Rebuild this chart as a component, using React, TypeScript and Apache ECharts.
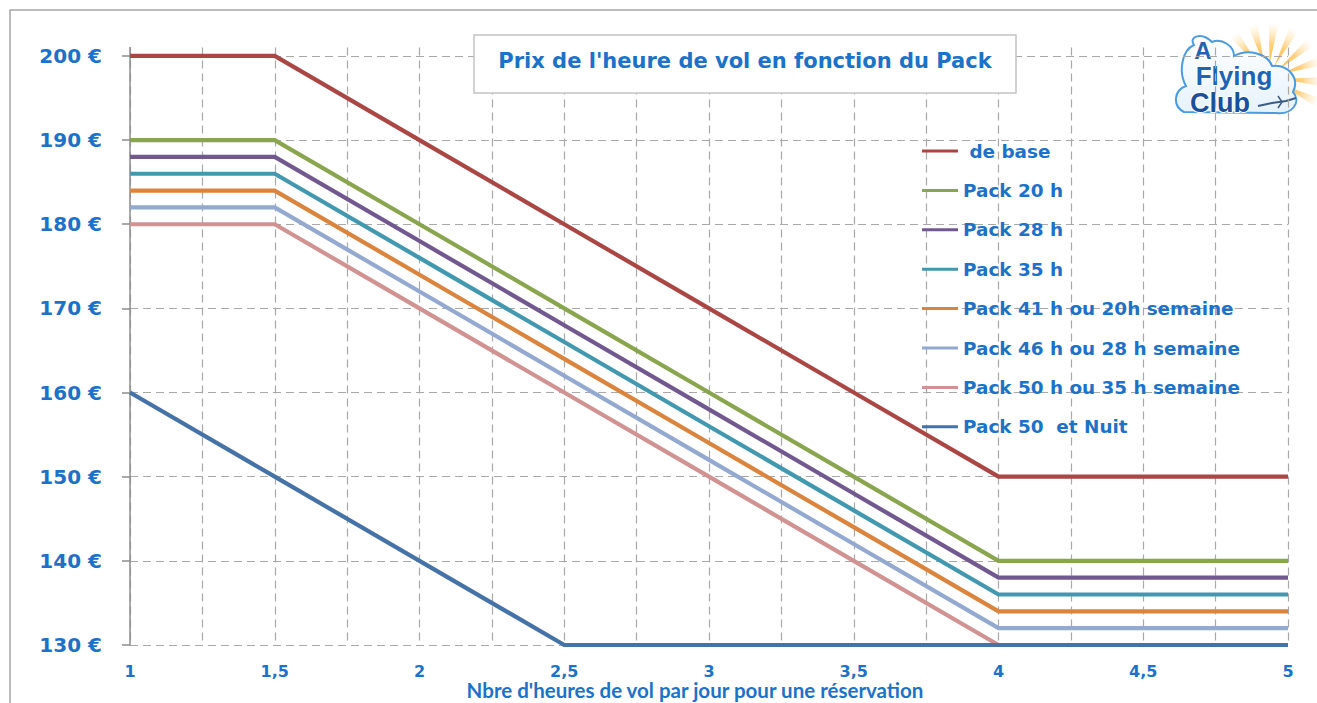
import React, { useEffect, useRef } from "react";
import * as echarts from "echarts";

const hours = [1, 1.5, 2, 2.5, 3, 3.5, 4, 4.5, 5];

const seriesNames = [
  " de base",
  "Pack 20 h",
  "Pack 28 h",
  "Pack 35 h",
  "Pack 41 h ou 20h semaine",
  "Pack 46 h ou 28 h semaine",
  "Pack 50 h ou 35 h semaine",
  "Pack 50  et Nuit",
];

const deBase = [200, 200, 190, 180, 170, 160, 150, 150, 150];
const pack20 = [190, 190, 180, 170, 160, 150, 140, 140, 140];
const pack28 = [188, 188, 178, 168, 158, 148, 138, 138, 138];
const pack35 = [186, 186, 176, 166, 156, 146, 136, 136, 136];
const pack41 = [184, 184, 174, 164, 154, 144, 134, 134, 134];
const pack46 = [182, 182, 172, 162, 152, 142, 132, 132, 132];
const pack50 = [180, 180, 170, 160, 150, 140, 130, 130, 130];
const pack50Nuit = [160, 150, 140, 130, 130, 130, 130, 130, 130];

const seriesValues = [deBase, pack20, pack28, pack35, pack41, pack46, pack50, pack50Nuit];

const seriesColors = [
  "#AA4643",
  "#89A54E",
  "#71588F",
  "#4198AF",
  "#DB843D",
  "#93A9CF",
  "#D19392",
  "#4572A7",
];

const yTicks = [130, 140, 150, 160, 170, 180, 190, 200];

const titleText = "Prix de l'heure de vol en fonction du Pack";
const xAxisTitle = "Nbre d'heures de vol par jour pour une réservation";

const cloudPath =
  "M1184 112 C1172 106 1174 90 1186 86 C1178 72 1182 50 1194 45 C1188 36 1202 32 1212 42 C1222 38 1234 46 1234 56 C1248 48 1268 54 1272 66 C1288 64 1300 78 1293 92 C1302 102 1292 115 1276 113 Z";

echarts.graphic.registerShape("cloud", echarts.graphic.extendPath(cloudPath, {}));

const textBlue = "#1B72C8";

function buildRays() {
  const cx = 1268;
  const cy = 78;
  const rays: any[] = [];
  const angles = [-150, -128, -106, -84, -62, -40, -18, 4, 26];
  angles.forEach((a) => {
    const half = 5;
    const r0 = 14;
    const r1 = 56;
    const t0 = ((a - half) * Math.PI) / 180;
    const t1 = ((a + half) * Math.PI) / 180;
    const tm = (a * Math.PI) / 180;
    rays.push({
      type: "polygon",
      shape: {
        points: [
          [cx + r0 * Math.cos(tm), cy + r0 * Math.sin(tm)],
          [cx + r1 * Math.cos(t0), cy + r1 * Math.sin(t0)],
          [cx + r1 * Math.cos(t1), cy + r1 * Math.sin(t1)],
        ],
      },
      style: {
        fill: {
          type: "radial",
          x: cx,
          y: cy,
          r: r1,
          global: true,
          colorStops: [
            { offset: 0, color: "rgba(255,170,30,1)" },
            { offset: 0.6, color: "rgba(255,195,90,0.8)" },
            { offset: 1, color: "rgba(255,225,170,0)" },
          ],
        },
      },
    });
  });
  return rays;
}

export default function App() {
  const ref = useRef<HTMLDivElement>(null);

  useEffect(() => {
    const chart = echarts.init(ref.current!, null, { renderer: "svg" });

    const series = seriesNames.map((name, si) => ({
      name,
      type: "line",
      data: hours.map((h, i) => [h, seriesValues[si][i]]),
      symbol: "none",
      showSymbol: false,
      clip: false,
      lineStyle: { width: 4.2, color: seriesColors[si], cap: "butt", join: "miter" },
      itemStyle: { color: seriesColors[si] },
      z: 3 + si,
    }));

    const option: any = {
      animation: false,
      backgroundColor: "#ffffff",
      grid: {
        left: 130,
        right: 29,
        top: 47.5,
        bottom: 58,
        containLabel: false,
        outerBoundsMode: "none",
      },
      xAxis: {
        type: "value",
        min: 1,
        max: 5,
        interval: 0.5,
        name: xAxisTitle,
        nameLocation: "middle",
        nameGap: 45,
        nameMoveOverlap: false,
        nameTextStyle: {
          color: textBlue,
          fontFamily: "Lato",
          fontWeight: "bold",
          fontSize: 20.5,
          lineHeight: 22,
          verticalAlign: "middle",
          padding: [0, 28, 0, 0],
        },
        axisLine: { show: false },
        axisTick: { show: false },
        minorTick: { show: false, splitNumber: 2 },
        axisLabel: {
          margin: 18,
          color: textBlue,
          fontFamily: "DejaVu Sans",
          fontWeight: "bold",
          fontSize: 16,
          lineHeight: 16,
          showMinLabel: true,
          showMaxLabel: true,
          formatter: (v: number) => String(v).replace(".", ","),
        },
        splitLine: {
          show: true,
          lineStyle: { color: "#A8A8A8", type: [8, 5], width: 1.2 },
        },
        minorSplitLine: {
          show: true,
          lineStyle: { color: "#A8A8A8", type: [8, 5], width: 1.2 },
        },
      },
      yAxis: {
        type: "value",
        min: 130,
        max: 201,
        interval: 10,
        axisLine: { show: true, lineStyle: { color: "#8C8C8C", width: 1.5 } },
        axisTick: {
          show: true,
          inside: false,
          length: 8,
          customValues: yTicks,
          lineStyle: { color: "#8C8C8C", width: 1.5 },
        },
        axisLabel: {
          margin: 28,
          customValues: yTicks,
          color: textBlue,
          fontFamily: "DejaVu Sans",
          fontWeight: "bold",
          fontSize: 20,
          formatter: (v: number) => (v % 10 === 0 ? v + " €" : ""),
        },
        splitLine: {
          show: true,
          lineStyle: { color: "#A8A8A8", type: [8, 5], width: 1.2 },
        },
      },
      legend: {
        orient: "vertical",
        left: 922,
        top: 141,
        padding: 0,
        itemWidth: 36,
        itemHeight: 3,
        itemGap: 19.4,
        icon: "rect",
        selectedMode: false,
        data: seriesNames,
        textStyle: {
          color: textBlue,
          fontFamily: "DejaVu Sans",
          fontWeight: "bold",
          fontSize: 18.4,
          lineHeight: 20,
        },
      },
      graphic: [
        {
          type: "rect",
          z: 0,
          silent: true,
          shape: { x: 10, y: 10, width: 1340, height: 730 },
          style: { fill: "none", stroke: "#A6A6A6", lineWidth: 1.5 },
        },
        {
          type: "rect",
          z: 20,
          shape: { x: 474, y: 35, width: 542, height: 58 },
          style: { fill: "#ffffff", stroke: "#C4C4C4", lineWidth: 1.5 },
        },
        {
          type: "text",
          z: 21,
          x: 745,
          y: 61,
          style: {
            text: titleText,
            fill: textBlue,
            font: "bold 21px 'DejaVu Sans'",
            align: "center",
            verticalAlign: "middle",
          },
        },
        {
          type: "group",
          z: 20,
          children: [
            ...buildRays(),
            {
              type: "cloud",
              x: 0,
              y: 0,
              style: {
                fill: {
                  type: "linear",
                  x: 0,
                  y: 0,
                  x2: 0,
                  y2: 1,
                  colorStops: [
                    { offset: 0, color: "#ffffff" },
                    { offset: 1, color: "#E6F2FC" },
                  ],
                },
                stroke: "#4A9BE0",
                lineWidth: 2,
              },
            },
            {
              type: "text",
              x: 1203,
              y: 50,
              style: {
                text: "A",
                font: "bold 24px 'Liberation Sans'",
                fill: "#1E63B4",
                stroke: "#ffffff",
                lineWidth: 2,
                align: "center",
                verticalAlign: "middle",
              },
            },
            {
              type: "text",
              x: 1234,
              y: 76,
              style: {
                text: "Flying",
                font: "bold 26px 'Liberation Sans'",
                fill: "#1E63B4",
                stroke: "#ffffff",
                lineWidth: 2,
                align: "center",
                verticalAlign: "middle",
              },
            },
            {
              type: "text",
              x: 1220,
              y: 103,
              style: {
                text: "Club",
                font: "bold 27px 'Liberation Sans'",
                fill: "#1A4F9A",
                stroke: "#ffffff",
                lineWidth: 2,
                align: "center",
                verticalAlign: "middle",
              },
            },
            {
              type: "polyline",
              shape: {
                points: [
                  [1258, 106],
                  [1272, 103],
                  [1286, 101],
                  [1296, 98],
                ],
              },
              style: { stroke: "#3C5C86", lineWidth: 2, fill: "none" },
            },
            {
              type: "polyline",
              shape: {
                points: [
                  [1278, 96],
                  [1282, 102],
                  [1278, 108],
                ],
              },
              style: { stroke: "#3C5C86", lineWidth: 1.5, fill: "none" },
            },
          ],
        },
      ],
      series,
    };

    chart.setOption(option);
    return () => chart.dispose();
  }, []);

  return (
    <div
      ref={ref}
      style={{ position: "fixed", left: 0, top: 0, width: 1317, height: 703, background: "#ffffff" }}
    />
  );
}
